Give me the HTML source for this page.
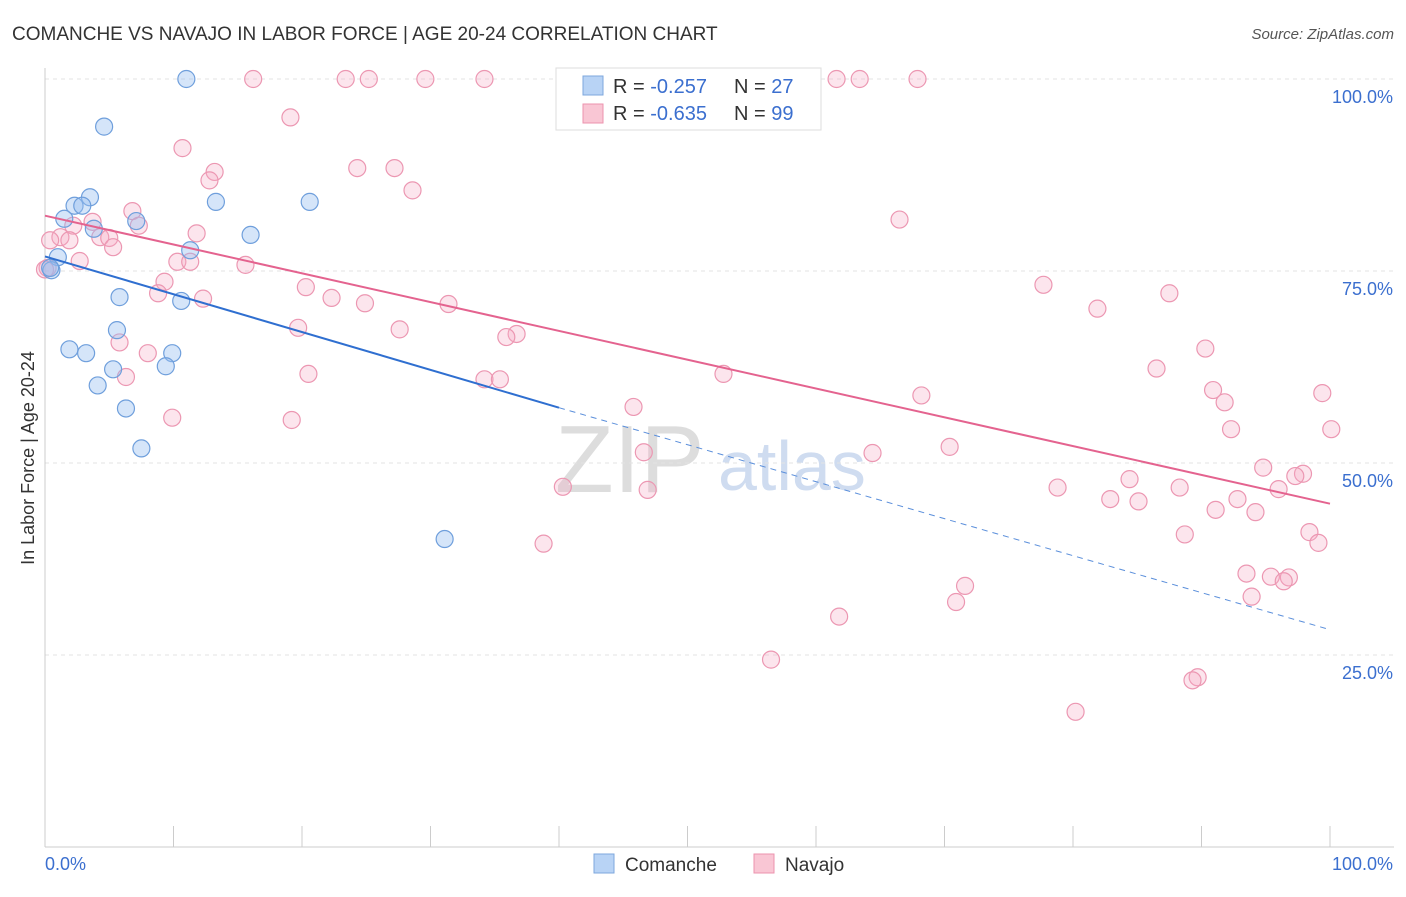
<!DOCTYPE html>
<html><head><meta charset="utf-8"><style>
body{margin:0;background:#fff;font-family:"Liberation Sans",sans-serif;}
svg text{font-family:"Liberation Sans",sans-serif;}
</style></head><body>
<svg id="chart" width="1406" height="892">
<text x="12" y="40" font-size="19" fill="#333">COMANCHE VS NAVAJO IN LABOR FORCE | AGE 20-24 CORRELATION CHART</text>
<text x="1394" y="39" font-size="15" fill="#555" font-style="italic" text-anchor="end">Source: ZipAtlas.com</text>
<text x="34" y="458" font-size="18" fill="#333" text-anchor="middle" transform="rotate(-90 34 458)">In Labor Force | Age 20-24</text>
<text x="555" y="492" font-size="96" fill="#ddd" font-family="Liberation Serif">ZIP</text>
<text x="718" y="490" font-size="70" fill="#cfdcf0">atlas</text>
<g id="grid"></g><g id="pts"></g><g id="lines"></g>
<g>
<rect x="556" y="68" width="265" height="62" fill="#fff" stroke="#ddd"/>
<rect x="583" y="76" width="20" height="19" fill="#b8d3f5" stroke="#7ea7dd"/>
<rect x="583" y="104" width="20" height="19" fill="#f9c6d4" stroke="#ec93ae"/>
<text x="613" y="93" font-size="20" fill="#333">R = <tspan fill="#3b6fcf">-0.257</tspan></text>
<text x="734" y="93" font-size="20" fill="#333">N = <tspan fill="#3b6fcf">27</tspan></text>
<text x="613" y="120" font-size="20" fill="#333">R = <tspan fill="#3b6fcf">-0.635</tspan></text>
<text x="734" y="120" font-size="20" fill="#333">N = <tspan fill="#3b6fcf">99</tspan></text>
</g>
<g>
<rect x="594" y="854" width="20" height="19" fill="#b8d3f5" stroke="#7ea7dd"/>
<text x="625" y="871" font-size="19" fill="#333">Comanche</text>
<rect x="754" y="854" width="20" height="19" fill="#f9c6d4" stroke="#ec93ae"/>
<text x="785" y="871" font-size="19" fill="#333">Navajo</text>
</g>
</svg>
<script>
const xTicks=[0,10,20,30,40,50,60,70,80,90,100];
const yTicks=[25,50,75,100];
const yTickLabels=["25.0%","50.0%","75.0%","100.0%"];
const comancheX=[11,4.6,3.5,13.3,20.6,1.5,2.3,2.9,7.1,3.8,16,11.3,1,0.5,5.8,10.6,5.6,1.9,3.2,9.9,9.4,5.3,4.1,6.3,7.5,31.1,0.4];
const comancheY=[100,93.8,84.6,84,84,81.8,83.5,83.5,81.5,80.5,79.7,77.7,76.8,75.1,71.6,71.1,67.3,64.8,64.3,64.3,62.6,62.2,60.1,57.1,51.9,40.1,75.4];
const navajoX=[16.2,23.4,25.2,29.6,34.2,53.2,61.6,63.4,67.9,19.1,10.7,24.3,27.2,13.2,12.8,28.6,6.8,3.7,7.3,2.2,1.2,1.9,4.3,5,5.3,11.8,66.5,0.4,0.2,2.7,10.3,11.3,15.6,9.3,20.3,8.8,12.3,22.3,24.9,31.4,77.7,81.9,87.5,19.7,27.6,36.7,35.9,5.8,8,90.3,86.5,20.5,6.3,52.8,34.2,35.4,90.9,99.4,91.8,68.2,45.8,9.9,19.2,92.3,100.1,46.6,70.4,64.4,94.8,97.9,97.3,84.4,40.3,78.8,46.9,88.3,96,82.9,85.1,92.8,91.1,94.2,88.7,98.4,99.1,38.8,93.5,95.4,96.8,96.4,71.6,93.9,70.9,61.8,56.5,89.7,89.3,80.2,0];
const navajoY=[100,100,100,100,100,100,100,100,100,95,91,88.4,88.4,87.9,86.8,85.5,82.8,81.4,80.9,80.9,79.4,79,79.4,79.3,78.1,79.9,81.7,79,75.4,76.3,76.2,76.2,75.8,73.6,72.9,72.1,71.4,71.5,70.8,70.7,73.2,70.1,72.1,67.6,67.4,66.8,66.4,65.7,64.3,64.9,62.3,61.6,61.2,61.6,60.9,60.9,59.5,59.1,57.9,58.8,57.3,55.9,55.6,54.4,54.4,51.4,52.1,51.3,49.4,48.6,48.3,47.9,46.9,46.8,46.5,46.8,46.6,45.3,45,45.3,43.9,43.6,40.7,41,39.6,39.5,35.6,35.2,35.1,34.6,34,32.6,31.9,30,24.4,22.1,21.7,17.6,75.2];
const comancheTrend=[-0.257,76.9,57.2,28.3];
const navajoTrend=[-0.635,82.2,44.7];
const X0=45,X1=1330,YB=847,YH=768;
const sx=v=>X0+(v/100)*(X1-X0), sy=v=>YB-(v/100)*YH;
const NS="http://www.w3.org/2000/svg";
function mk(t,a,p){const e=document.createElementNS(NS,t);for(const k in a)e.setAttribute(k,a[k]);p.appendChild(e);return e;}
const grid=document.getElementById('grid');
yTicks.forEach((v,i)=>{
 const l=mk('line',{x1:X0,x2:1394,y1:sy(v),y2:sy(v),stroke:'#e3e3e3','stroke-dasharray':'4,4'},grid);
 
 
 const t=mk('text',{x:1393,y:sy(v)+24,'font-size':18,fill:'#3b6fcf','text-anchor':'end'},grid);t.textContent=yTickLabels[i];
 
 
});
mk('line',{x1:X0,x2:X0,y1:68,y2:YB,stroke:'#ccc'},grid);
mk('line',{x1:X0,x2:1394,y1:YB,y2:YB,stroke:'#ccc'},grid);
xTicks.forEach(v=>{const l=mk('line',{x1:sx(v),x2:sx(v),y1:826,y2:YB,stroke:'#ccc'},grid);
 
 });
let t=mk('text',{x:45,y:870,'font-size':18,fill:'#3b6fcf'},grid);t.textContent='0.0%';


t=mk('text',{x:1393,y:870,'font-size':18,fill:'#3b6fcf','text-anchor':'end'},grid);t.textContent='100.0%';


const pts=document.getElementById('pts');
navajoX.forEach((x,i)=>{const c=mk('circle',{cx:sx(x),cy:sy(navajoY[i]),r:8.5,fill:'rgba(246,170,195,0.3)',stroke:'#ec97b2','stroke-width':1.2},pts);
 
 });
comancheX.forEach((x,i)=>{const c=mk('circle',{cx:sx(x),cy:sy(comancheY[i]),r:8.5,fill:'rgba(150,190,240,0.4)',stroke:'#6f9fdc','stroke-width':1.2},pts);
 
 });
const ln=document.getElementById('lines');
let l=mk('line',{x1:sx(0),y1:sy(comancheTrend[1]),x2:sx(40),y2:sy(comancheTrend[2]),stroke:'#2f6fd0','stroke-width':2},ln);


l=mk('line',{x1:sx(40),y1:sy(comancheTrend[2]),x2:sx(100),y2:sy(comancheTrend[3]),stroke:'#5b8fdb','stroke-width':1,'stroke-dasharray':'6,5'},ln);


l=mk('line',{x1:sx(0),y1:sy(navajoTrend[1]),x2:sx(100),y2:sy(navajoTrend[2]),stroke:'#e4638f','stroke-width':2},ln);


</script>
</body></html>
